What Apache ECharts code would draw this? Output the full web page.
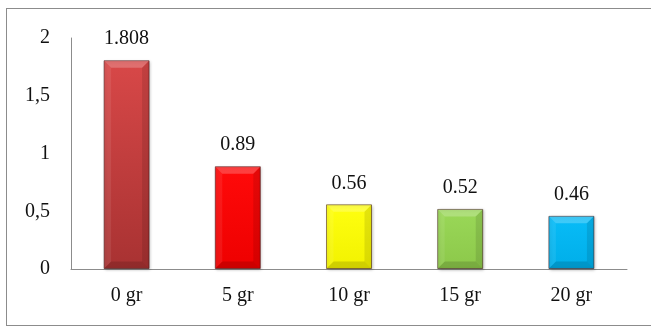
<!DOCTYPE html>
<html>
<head>
<meta charset="utf-8">
<script src="https://cdn.jsdelivr.net/npm/echarts@6/dist/echarts.min.js"></script>
<style>
  html, body { margin: 0; padding: 0; background: #fff; }
  #frame { position: absolute; left: 6px; top: 8px; width: 700px; height: 318px;
           border: 1px solid #8c8c8c; box-sizing: border-box; }
  #chart { position: absolute; left: 0; top: 0; width: 651px; height: 327px; }
</style>
</head>
<body>
<div id="frame"></div>
<div id="chart"></div>
<script>
// Categories and measured values
const categories = ['0 gr', '5 gr', '10 gr', '15 gr', '20 gr'];
const values = [1.808, 0.89, 0.56, 0.52, 0.46];
const valueLabels = ['1.808', '0.89', '0.56', '0.52', '0.46'];
const yTicks = [0, 0.5, 1, 1.5, 2];

// Bar fill colours: [top, bottom] of each bar's vertical gradient
const barColors = [
  ['#d84848', '#a83232'],
  ['#ff0a0a', '#ee0000'],
  ['#ffff10', '#f2f200'],
  ['#9ad858', '#8cc84a'],
  ['#08bcf8', '#00aee8']
];

const FONT = '"Liberation Serif", "DejaVu Serif", serif';
const BAR_W = 46;
const BEVEL = 7;

const chart = echarts.init(document.getElementById('chart'), null, { renderer: 'canvas' });

chart.setOption({
  animation: false,
  grid: { left: 71, right: 24, top: 38, bottom: 58 },
  xAxis: {
    type: 'category',
    data: categories,
    axisLine: { lineStyle: { color: '#8c8c8c', width: 1 } },
    axisTick: { show: false },
    axisLabel: { color: '#111', fontFamily: FONT, fontSize: 20, margin: 17 }
  },
  yAxis: {
    type: 'value',
    min: 0, max: 2, interval: 0.5,
    axisLine: { show: true, lineStyle: { color: '#8c8c8c', width: 1 } },
    axisTick: { show: false },
    splitLine: { show: false },
    axisLabel: {
      color: '#111', fontFamily: FONT, fontSize: 20, margin: 21,
      formatter: v => yTicks.includes(v) ? String(v).replace('.', ',') : ''
    }
  },
  series: [
    {
      type: 'bar',
      barWidth: BAR_W,
      data: values.map((v, i) => ({
        value: v,
        itemStyle: {
          color: new echarts.graphic.LinearGradient(0, 0, 0, 1, [
            { offset: 0, color: barColors[i][0] },
            { offset: 1, color: barColors[i][1] }
          ]),
          borderColor: 'rgba(60,20,20,0.55)',
          borderWidth: 1,
          shadowColor: 'rgba(0,0,0,0.25)',
          shadowBlur: 3,
          shadowOffsetX: 1,
          shadowOffsetY: 1
        }
      })),
      label: {
        show: true,
        position: 'top',
        distance: 11,
        color: '#111',
        fontFamily: FONT,
        fontSize: 20,
        formatter: p => valueLabels[p.dataIndex]
      }
    },
    {
      // Bevelled edges drawn over each bar
      type: 'custom',
      silent: true,
      z: 3,
      data: values.map((v, i) => [i, v]),
      renderItem: (params, api) => {
        const top = api.coord([api.value(0), api.value(1)]);
        const base = api.coord([api.value(0), 0]);
        const L = top[0] - BAR_W / 2 + 0.5, R = top[0] + BAR_W / 2 - 0.5;
        const T = top[1] + 0.5, B = base[1] - 0.5;
        const b = Math.min(BEVEL, (B - T) / 2);
        const poly = (pts, fill) => ({ type: 'polygon', shape: { points: pts }, style: { fill } });
        return {
          type: 'group',
          children: [
            poly([[L, T], [R, T], [R - b, T + b], [L + b, T + b]], 'rgba(255,255,255,0.22)'),
            poly([[L, B], [R, B], [R - b, B - b], [L + b, B - b]], 'rgba(0,0,0,0.14)'),
            poly([[L, T], [L + b, T + b], [L + b, B - b], [L, B]], 'rgba(255,255,255,0.08)'),
            poly([[R, T], [R - b, T + b], [R - b, B - b], [R, B]], 'rgba(0,0,0,0.10)')
          ]
        };
      }
    }
  ]
});
</script>
</body>
</html>
